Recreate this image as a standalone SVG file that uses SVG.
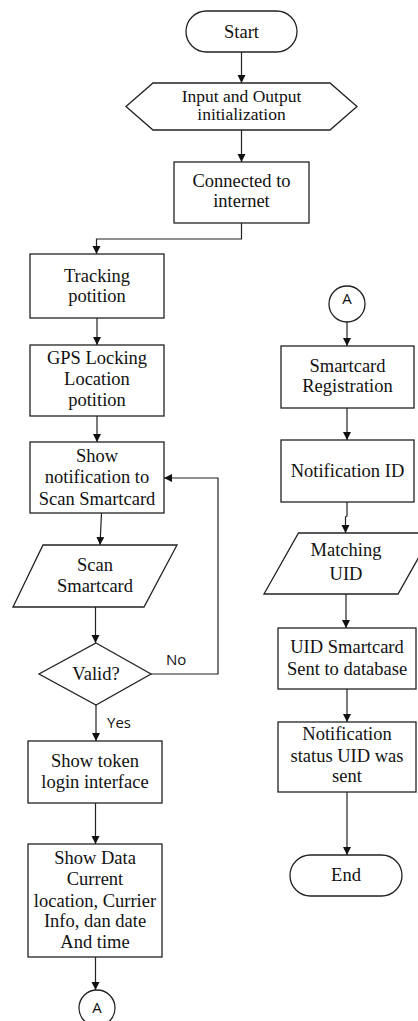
<svg xmlns="http://www.w3.org/2000/svg" width="418" height="1021" viewBox="0 0 418 1021">
<style>
.s{fill:#fff;stroke:#222;stroke-width:1.3}
.t{font-family:"Liberation Serif","Times New Roman",serif;font-size:18.5px;fill:#111;text-anchor:middle}
.ts{font-family:"Liberation Serif","Times New Roman",serif;font-size:17.5px;fill:#111;text-anchor:middle}
.l{font-family:"Open Sans","Liberation Sans",sans-serif;font-size:15px;fill:#111}
.c{fill:none;stroke:#222;stroke-width:1.2;marker-end:url(#ah)}
.cn{fill:none;stroke:#222;stroke-width:1.2}
</style>
<defs>
<marker id="ah" markerUnits="userSpaceOnUse" markerWidth="10" markerHeight="10" refX="8" refY="4" orient="auto">
<path d="M0,0 L8,4 L0,8 Z" fill="#111"/>
</marker>
</defs>
<rect width="418" height="1021" fill="#fff"/>
<g id="connectors">
<path class="c" d="M241.5,52 V83"/>
<path class="c" d="M241.5,130 V162"/>
<path class="c" d="M241.5,223 V239 H96.5 V254"/>
<path class="c" d="M97,318 V345"/>
<path class="c" d="M97,416 V442"/>
<path class="c" d="M101.5,513 L100,545"/>
<path class="c" d="M95.5,607 V643"/>
<path class="c" d="M151,674 H218 V478 H164"/>
<path class="c" d="M96,705 V741"/>
<path class="c" d="M95.5,803 V844"/>
<path class="c" d="M95.5,957 V990"/>
<path class="c" d="M347,322 V346"/>
<path class="c" d="M347,408 V440"/>
<path class="c" d="M347,502 V516 L345.5,517 V533"/>
<path class="c" d="M346,594 V628"/>
<path class="c" d="M347,689 V722"/>
<path class="c" d="M347,792 V855"/>
</g>
<g id="start"><rect class="s" x="186" y="11" width="111" height="41" rx="20.5"/><text class="t" x="241.5" y="38">Start</text></g>
<g id="init"><polygon class="s" points="126,106.5 153,83 330,83 357,106.5 330,130 153,130"/><text class="ts" x="241.5" y="101.5">Input and Output</text><text class="ts" x="241.5" y="120">initialization</text></g>
<g id="connected"><rect class="s" x="174" y="162" width="135" height="61"/><text class="t" x="241.5" y="187">Connected to</text><text class="t" x="241.5" y="207">internet</text></g>
<g id="tracking"><rect class="s" x="30" y="254" width="134" height="64"/><text class="t" x="97" y="282">Tracking</text><text class="t" x="97" y="302">potition</text></g>
<g id="gps"><rect class="s" x="30" y="345" width="134" height="71"/><text class="t" x="97" y="364">GPS Locking</text><text class="t" x="97" y="385">Location</text><text class="t" x="97" y="406">potition</text></g>
<g id="shownotif"><rect class="s" x="30" y="442" width="134" height="71"/><text class="t" x="97" y="462">Show</text><text class="t" x="97" y="483">notification to</text><text class="t" x="97" y="505">Scan Smartcard</text></g>
<g id="scan"><polygon class="s" points="43,545 177,545 144,607 13,607"/><text class="t" x="95" y="571">Scan</text><text class="t" x="95" y="592">Smartcard</text></g>
<g id="valid"><polygon class="s" points="96,643 151,674 96,705 39,674"/><text class="t" x="96" y="680">Valid?</text></g>
<g id="labels"><text class="l" x="166" y="665">No</text><text class="l" x="107" y="728">Yes</text></g>
<g id="token"><rect class="s" x="28" y="741" width="134" height="62"/><text class="t" x="95" y="767">Show token</text><text class="t" x="95" y="788">login interface</text></g>
<g id="showdata"><rect class="s" x="28" y="844" width="134" height="113"/><text class="t" x="95" y="864">Show Data</text><text class="t" x="95" y="885">Current</text><text class="t" x="95" y="907">location, Currier</text><text class="t" x="95" y="927">Info, dan date</text><text class="t" x="95" y="948">And time</text></g>
<g id="connA1"><circle class="s" cx="97" cy="1008" r="18"/><text class="l" x="97" y="1013" text-anchor="middle">A</text></g>
<g id="connA2"><circle class="s" cx="347" cy="304" r="18"/><text class="l" x="347" y="304" text-anchor="middle">A</text></g>
<g id="registration"><rect class="s" x="281" y="346" width="133" height="62"/><text class="t" x="347.5" y="372">Smartcard</text><text class="t" x="347.5" y="392">Registration</text></g>
<g id="notifid"><rect class="s" x="281" y="440" width="133" height="62"/><text class="t" x="347.5" y="477">Notification ID</text></g>
<g id="matching"><polygon class="s" points="298.5,533 432.5,533 398,594 264,594"/><text class="t" x="346" y="556">Matching</text><text class="t" x="346" y="580">UID</text></g>
<g id="uidsent"><rect class="s" x="278" y="628" width="138" height="61"/><text class="t" x="347" y="653">UID Smartcard</text><text class="t" x="347" y="675">Sent to database</text></g>
<g id="status"><rect class="s" x="278" y="722" width="138" height="70"/><text class="t" x="347" y="740">Notification</text><text class="t" x="347" y="762">status UID was</text><text class="t" x="347" y="782">sent</text></g>
<g id="end"><rect class="s" x="290" y="855" width="112" height="41" rx="20.5"/><text class="t" x="346" y="881">End</text></g>
</svg>
